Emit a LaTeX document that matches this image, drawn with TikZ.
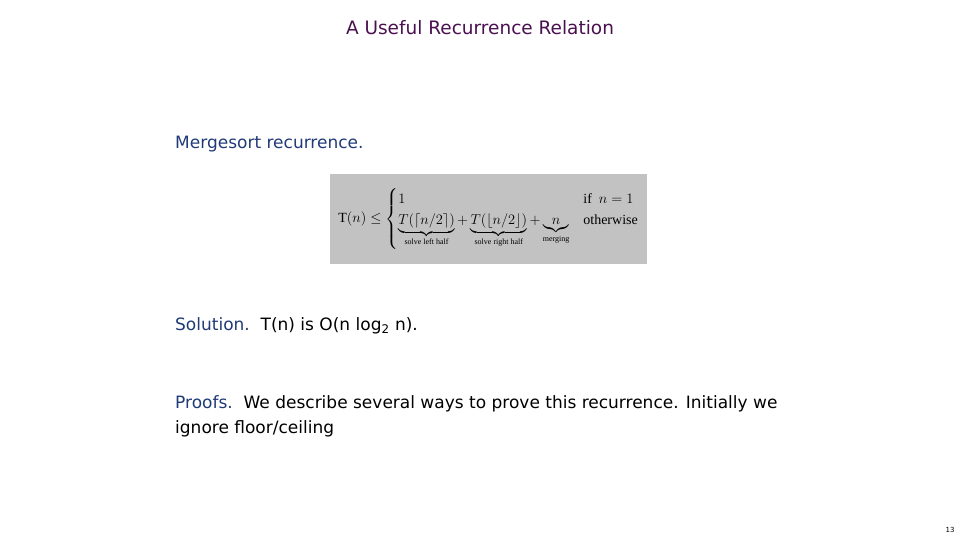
\documentclass[tikz,border=0pt]{standalone}
\usepackage{fontspec}
\usepackage{amsmath}
\setmainfont{DejaVu Sans}
\newfontfamily\serifx{Liberation Serif}
\definecolor{titlec}{HTML}{4A1050}
\definecolor{labc}{HTML}{1F3A78}
\definecolor{boxg}{HTML}{C2C2C2}
\begin{document}
\begin{tikzpicture}[x=1pt,y=-1pt,
  txt/.style={anchor=west,inner sep=0pt,font=\fontsize{17}{22}\selectfont}]
\useasboundingbox (0,0) rectangle (960,540);
\node[inner sep=0pt,font=\fontsize{18.5}{20}\selectfont,text=titlec] (title) at (480,28) {A Useful Recurrence Relation};
\node[txt] (ms) at (175,144) {\textcolor{labc}{Mergesort recurrence.}};
\node[fill=boxg,minimum width=317pt,minimum height=90pt,inner sep=0pt,anchor=north west] (box) at (330,174) {};
\node[inner sep=0pt,font=\fontsize{14}{16}\selectfont\serifx] (f) at (box.center) {$\text{\serifx T}(n)\le\begin{cases}1 & \text{if }\ n=1\\[2pt]
\underbrace{T(\lceil n/2\rceil)}_{\text{\fontsize{8}{9}\selectfont solve left half}}+\underbrace{T(\lfloor n/2\rfloor)}_{\text{\fontsize{8}{9}\selectfont solve right half}}+\underbrace{n}_{\text{\fontsize{8}{9}\selectfont merging}} & \text{otherwise}\end{cases}$};
\node[txt] (sol) at (175,326) {\textcolor{labc}{Solution.}\ \ T(n) is O(n log\textsubscript{2} n).};
\node[txt,align=left,anchor=north west] (pr) at (175,395) {\textcolor{labc}{Proofs.}\ \ We describe several ways to prove this recurrence. Initially we\\[3pt] ignore floor/ceiling};
\node[inner sep=0pt,font=\fontsize{7}{8}\selectfont] (pg) at (950,530) {13};
\end{tikzpicture}
\end{document}
